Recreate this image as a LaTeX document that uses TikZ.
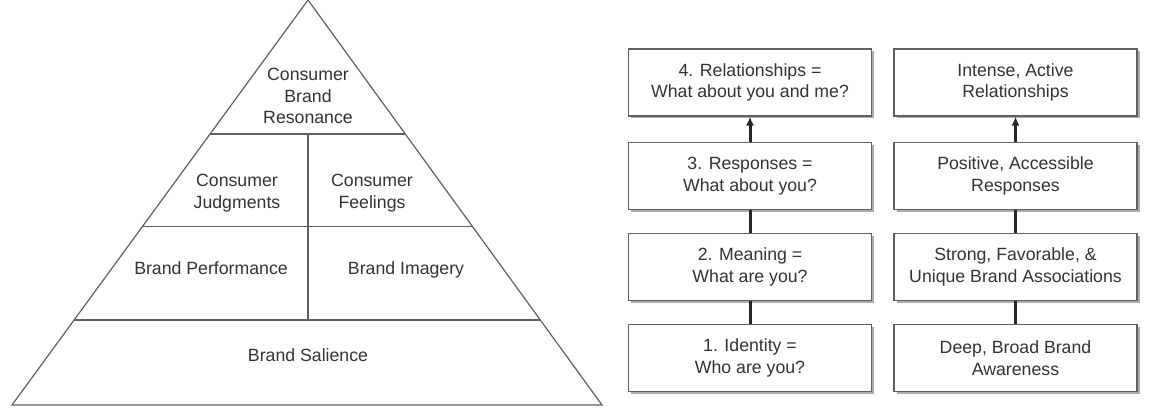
\documentclass[tikz,border=0pt]{standalone}
\usepackage{fontspec}
\setmainfont{Liberation Sans}
\usetikzlibrary{calc,shadows,arrows.meta}
\definecolor{txtgray}{HTML}{333333}
\definecolor{linegray}{HTML}{606060}

\begin{document}
\begin{tikzpicture}[x=1pt,y=-1pt,
		font=\fontsize{17.7}{21.5}\selectfont,text=txtgray,
		level/.style={rectangle,draw=linegray,line width=1.3pt,fill=white,minimum width=243pt,minimum height=67pt,align=center,
			drop shadow={shadow xshift=2.5pt,shadow yshift=-2.5pt,fill=gray!65,opacity=1}},
		lbl/.style={align=center,inner sep=0pt},
		link/.style={draw=black!85,line width=3pt}]
	\useasboundingbox (0,0) rectangle (1149,411);
	% pyramid
	\coordinate (top) at (308,0);
	\coordinate (bl) at (12,405);
	\coordinate (br) at (602,405);
	\draw[linegray,line width=1.2pt] (top) -- (br) -- (bl) -- cycle;
	\draw[linegray,line width=1.2pt] ($(top)!0.331!(bl)$) -- ($(top)!0.331!(br)$);
	\draw[linegray,line width=1.2pt] ($(top)!0.560!(bl)$) -- ($(top)!0.560!(br)$);
	\draw[linegray,line width=1.2pt] ($(top)!0.790!(bl)$) -- ($(top)!0.790!(br)$);
	\draw[linegray,line width=1.2pt] (308,134) -- (308,320);
	\node[lbl] (res) at (308,96) {Consumer\\Brand\\Resonance};
	\node[lbl] (jud) at (237,193) {Consumer\\Judgments};
	\node[lbl] (feel) at (372,193) {Consumer\\Feelings};
	\node[lbl,anchor=base] (perf) at (211,275) {Brand Performance};
	\node[lbl,anchor=base] (imag) at (406,275) {Brand Imagery};
	\node[lbl,anchor=base] (sal) at (308,362) {Brand Salience};
	% steps
	\node[level] (q4) at (750,82.5) {4. Relationships =\\What about you and me?};
	\node[level] (q3) at (750,176) {3. Responses =\\What about you?};
	\node[level] (q2) at (750,267) {2. Meaning =\\What are you?};
	\node[level] (q1) at (750,358) {1. Identity =\\Who are you?};
	% goals
	\node[level] (g4) at (1015.5,82.5) {Intense, Active\\Relationships};
	\node[level] (g3) at (1015.5,176) {Positive, Accessible\\Responses};
	\node[level] (g2) at (1015.5,267) {Strong, Favorable, \&\\Unique Brand Associations};
	\node[level] (g1) at (1015.5,358) {Deep, Broad Brand\\Awareness};
	\path[link] (q1.north) -- (q2.south);
	\path[link] (q2.north) -- (q3.south);
	\path[link,-{Latex[length=9pt,width=8pt]}] (q3.north) -- (q4.south);
	\path[link] (g1.north) -- (g2.south);
	\path[link] (g2.north) -- (g3.south);
	\path[link,-{Latex[length=9pt,width=8pt]}] (g3.north) -- (g4.south);
\end{tikzpicture}
\end{document}
